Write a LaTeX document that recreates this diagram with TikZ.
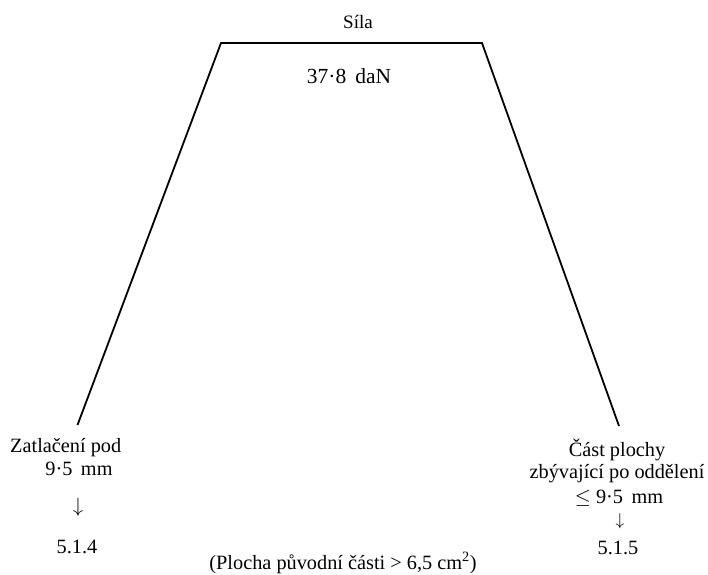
\documentclass[tikz,border=0pt]{standalone}
\usepackage{fontspec}
\setmainfont{Liberation Serif}
\newcommand{\darrowsym}{$\downarrow$}
\begin{document}
\begin{tikzpicture}[x=1pt,y=-1pt,
  lbl/.style={inner sep=0pt,anchor=base,font=\fontsize{20.3}{24}\selectfont},
  edge/.style={line width=1.8pt,line join=miter}]
\useasboundingbox (0,0) rectangle (708,574);
\coordinate (bl) at (77.5,425);
\coordinate (tl) at (221,43);
\coordinate (tr) at (482,43);
\coordinate (br) at (619,426);
\draw[edge] (bl) -- (tl) -- (tr) -- (br);
\node[lbl,font=\fontsize{19}{22}\selectfont] (sila) at (358,28) {Síla};
\node[lbl,font=\fontsize{21.5}{25}\selectfont] (force) at (349,83) {37·8\, daN};
\node[lbl,anchor=base west] (zl1) at (10,452) {Zatlačení pod};
\node[lbl] (zl2) at (79,475) {9·5\, mm};
\node[lbl,font=\fontsize{22}{26}\selectfont] (arl) at (78,512) {\darrowsym};
\node[lbl] (c514) at (77,553) {5.1.4};
\node[lbl] (cr1) at (617,456) {Část plochy};
\node[lbl] (cr2) at (617,478) {zbývající po oddělení};
\node[lbl] (cr3) at (619,503) {$\leq$ 9·5\, mm};
\node[lbl,font=\fontsize{18}{21}\selectfont] (arr) at (620,525) {\darrowsym};
\node[lbl] (c515) at (618,554) {5.1.5};
\node[lbl] (foot) at (343,569) {(Plocha původní části > 6,5 cm\textsuperscript{2})};
\end{tikzpicture}
\end{document}
